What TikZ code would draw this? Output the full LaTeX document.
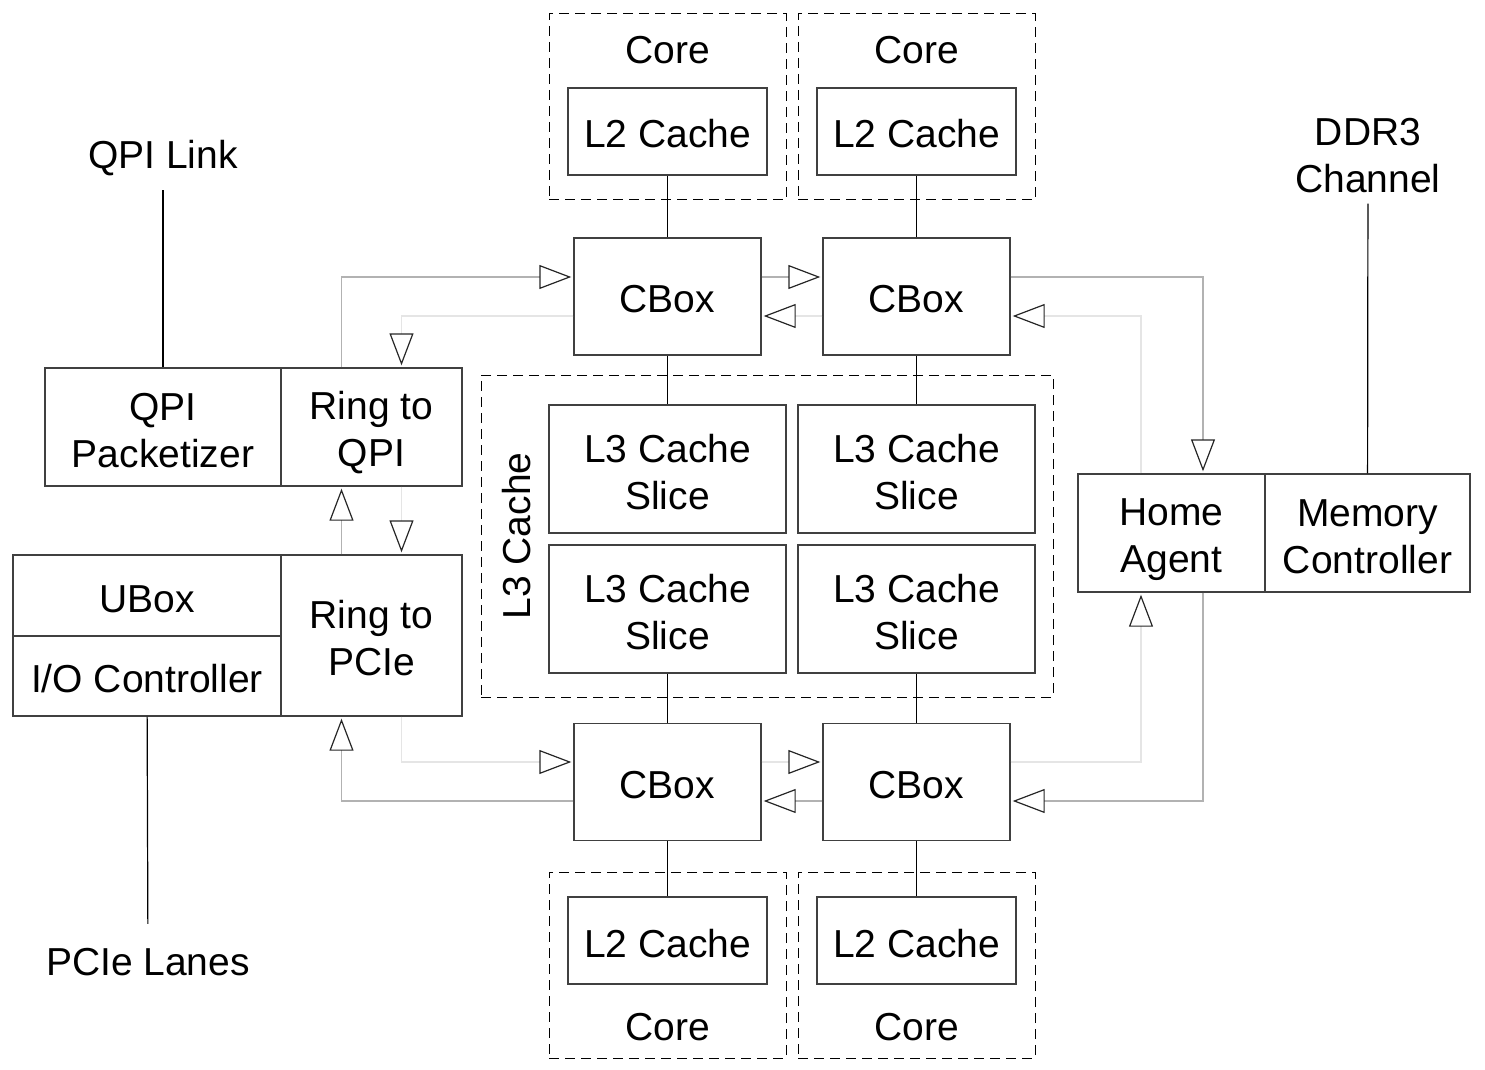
\documentclass[tikz,border=0pt]{standalone}
\usepackage{fontspec}
\setmainfont{Liberation Sans}
\usepackage{tikz}
\usetikzlibrary{arrows.meta}
\usetikzlibrary{calc}

\newcommand\tstrut{\rule[-3.5pt]{0pt}{23.5pt}}

\begin{document}
\begin{tikzpicture}[x=0.5pt,y=-0.5pt,
  font=\fontsize{19.5pt}{23.5pt}\selectfont,
  unit/.style={draw=black!75, line width=0.7pt, inner sep=0pt, align=center,
    execute at begin node=\tstrut, execute at end node=\tstrut},
  corebox/.style={draw, dashed, dash pattern=on 5pt off 3pt, line width=0.5pt, inner sep=0pt},
  label/.style={align=center, inner sep=2pt},
  wire/.style={line width=0.6pt},
  ringcw/.style={draw=black!30, line width=0.8pt, shorten >=1pt,
    -{Triangle[open, color=black!85, line width=0.6pt, length=16pt, width=12pt]}},
  ringccw/.style={draw=black!10, line width=0.8pt, shorten >=1pt,
    -{Triangle[open, color=black!85, line width=0.6pt, length=16pt, width=12pt]}}]
\useasboundingbox (0,0) rectangle (1485,1070);

% cores (dashed)
\node [corebox, minimum width=118.5pt, minimum height=93pt] (coretl) at (667.5,107) {};
\node [corebox, minimum width=118.5pt, minimum height=93pt] (coretr) at (916.5,107) {};
\node [corebox, minimum width=118.5pt, minimum height=93pt] (corebl) at (667.5,965) {};
\node [corebox, minimum width=118.5pt, minimum height=93pt] (corebr) at (916.5,965) {};
\node [label] (coretltxt) at (667.5,50) {Core};
\node [label] (coretrtxt) at (916.5,50) {Core};
\node [label] (corebltxt) at (667.5,1027) {Core};
\node [label] (corebrtxt) at (916.5,1027) {Core};

% L2 caches
\node [unit, minimum width=99.5pt, minimum height=43.5pt] (l2tl) at (667.5,131.5) {L2 Cache};
\node [unit, minimum width=99.5pt, minimum height=43.5pt] (l2tr) at (916.5,131.5) {L2 Cache};
\node [unit, minimum width=99.5pt, minimum height=43.5pt] (l2bl) at (667.5,940.5) {L2 Cache};
\node [unit, minimum width=99.5pt, minimum height=43.5pt] (l2br) at (916.5,940.5) {L2 Cache};

% CBoxes
\node [unit, minimum width=93.5pt, minimum height=58.5pt] (cbtl) at (667.5,296.5) {CBox};
\node [unit, minimum width=93.5pt, minimum height=58.5pt] (cbtr) at (916.5,296.5) {CBox};
\node [unit, minimum width=93.5pt, minimum height=58.5pt] (cbbl) at (667.5,782) {CBox};
\node [unit, minimum width=93.5pt, minimum height=58.5pt] (cbbr) at (916.5,782) {CBox};

% L3 cache
\node [corebox, minimum width=286pt, minimum height=161pt] (l3) at (767,536) {};
\node [label, rotate=90] (l3txt) at (517,536) {L3 Cache};
\node [unit, minimum width=118.5pt, minimum height=64pt] (l3tl) at (667.5,469) {\tstrut L3 Cache\\Slice};
\node [unit, minimum width=118.5pt, minimum height=64pt] (l3tr) at (916.5,469) {\tstrut L3 Cache\\Slice};
\node [unit, minimum width=118.5pt, minimum height=64pt] (l3bl) at (667.5,609) {\tstrut L3 Cache\\Slice};
\node [unit, minimum width=118.5pt, minimum height=64pt] (l3br) at (916.5,609) {\tstrut L3 Cache\\Slice};

% left side
\node [unit, minimum width=118pt, minimum height=59pt] (qpip) at (163,427) {\tstrut QPI\\Packetizer};
\node [unit, minimum width=90.5pt, minimum height=59pt] (rqpi) at (371.5,427) {\tstrut Ring to\\QPI};
\node [unit, minimum width=134pt, minimum height=40.5pt] (ubox) at (147,595.5) {UBox};
\node [unit, minimum width=134pt, minimum height=40pt] (ioc) at (147,676) {I/O Controller};
\node [unit, minimum width=90.5pt, minimum height=80.5pt] (rpcie) at (371.5,635.5) {\tstrut Ring to\\PCIe};
\node [label, inner sep=7pt] (qpilink) at (163,158) {QPI Link};
\node [label, inner sep=12pt] (pcielanes) at (148,962) {PCIe Lanes};

% right side
\node [unit, minimum width=93.5pt, minimum height=59pt] (ha) at (1171.5,533) {\tstrut Home\\Agent};
\node [unit, minimum width=102.5pt, minimum height=59pt] (mc) at (1367.5,533) {\tstrut Memory\\Controller};
\node [label, inner sep=5pt] (ddr) at (1368,156) {DDR3\\Channel};

% core to ring stops
\draw [wire] (l2tl) -- (cbtl);
\draw [wire] (l2tr) -- (cbtr);
\draw [wire] (cbtl) -- (l3tl);
\draw [wire] (cbtr) -- (l3tr);
\draw [wire] (l3bl) -- (cbbl);
\draw [wire] (l3br) -- (cbbr);
\draw [wire] (cbbl) -- (l2bl);
\draw [wire] (cbbr) -- (l2br);
\draw [wire] (qpilink) -- (qpip);
\draw [wire] (ioc) -- (pcielanes);
\draw [wire] (ddr) -- (mc);

% ring, clockwise
\draw [ringcw] ($(rqpi.north)+(-30,0)$) |- ($(cbtl.west)+(0,-19.5)$);
\draw [ringcw] ($(cbtl.east)+(0,-19.5)$) -- ($(cbtr.west)+(0,-19.5)$);
\draw [ringcw] ($(cbtr.east)+(0,-19.5)$) -| ($(ha.north)+(31.5,0)$);
\draw [ringcw] ($(ha.south)+(31.5,0)$) |- ($(cbbr.east)+(0,19)$);
\draw [ringcw] ($(cbbr.west)+(0,19)$) -- ($(cbbl.east)+(0,19)$);
\draw [ringcw] ($(cbbl.west)+(0,19)$) -| ($(rpcie.south)+(-30,0)$);
\draw [ringcw] ($(rpcie.north)+(-30,0)$) -- ($(rqpi.south)+(-30,0)$);

% ring, counter-clockwise
\draw [ringccw] ($(cbtl.west)+(0,19.5)$) -| ($(rqpi.north)+(30,0)$);
\draw [ringccw] ($(rqpi.south)+(30,0)$) -- ($(rpcie.north)+(30,0)$);
\draw [ringccw] ($(rpcie.south)+(30,0)$) |- ($(cbbl.west)+(0,-20)$);
\draw [ringccw] ($(cbbl.east)+(0,-20)$) -- ($(cbbr.west)+(0,-20)$);
\draw [ringccw] ($(cbbr.east)+(0,-20)$) -| ($(ha.south)+(-30.5,0)$);
\draw [ringccw] ($(ha.north)+(-30.5,0)$) |- ($(cbtr.east)+(0,19.5)$);
\draw [ringccw] ($(cbtr.west)+(0,19.5)$) -- ($(cbtl.east)+(0,19.5)$);
\end{tikzpicture}
\end{document}
